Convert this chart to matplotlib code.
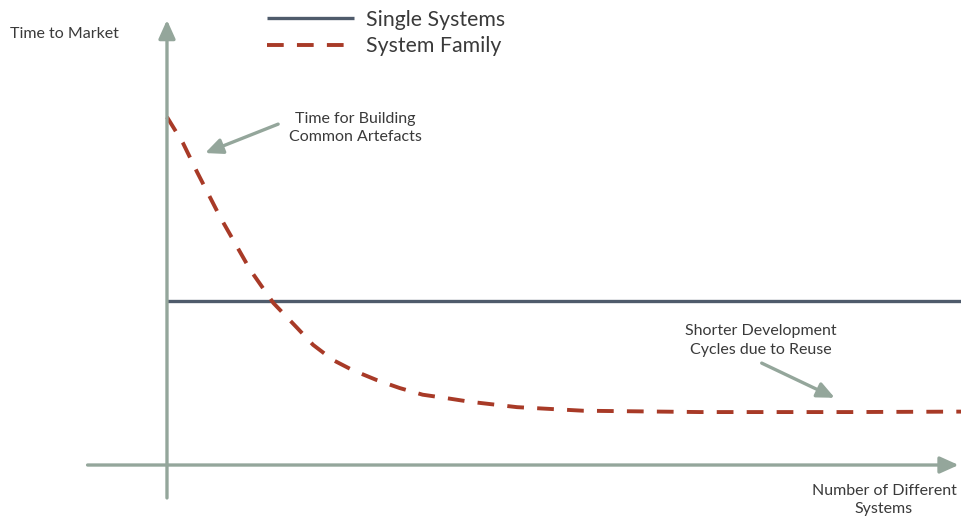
import matplotlib
matplotlib.use("Agg")
from matplotlib import pyplot as plt
import numpy as np

plt.rcParams['font.family'] = ['Lato', 'DejaVu Sans']

# number of different systems (x) vs time to market (y)
n_systems = [0.0, 0.2, 0.38, 0.67, 1.05, 1.34, 1.64, 1.84, 2.09, 2.34, 2.64,
             2.93, 3.22, 3.53, 3.82, 4.41, 5.24, 6.71, 8.6, 10.0]
family_time = [7.82, 7.24, 6.58, 5.57, 4.38, 3.64, 3.08, 2.7, 2.36, 2.13, 1.91,
               1.73, 1.58, 1.5, 1.42, 1.3, 1.22, 1.19, 1.19, 1.2]
single_x = [0.0, 10.0]
single_time = [3.69, 3.69]

axis_col = '#94a69b'
text_col = '#3a3a3a'
single_col = '#4f5b6b'
family_col = '#a83a27'

fig = plt.figure(figsize=(9.61, 5.19), dpi=100)
ax = fig.add_axes([0, 0, 1, 1])
ax.set_xlim(-2.103, 10.0)
ax.set_ylim(-1.213, 10.449)
ax.axis('off')

arrow = dict(arrowstyle='-|>,head_length=0.8,head_width=0.36',
             color=axis_col, lw=2.4, shrinkA=0, shrinkB=0)

# axes with arrow heads
ax.annotate('', xy=(0, 10.0), xytext=(0, -0.74),
            arrowprops=dict(arrow, mutation_scale=14))
ax.annotate('', xy=(9.97, 0), xytext=(-1.0, 0),
            arrowprops=dict(arrow, mutation_scale=14))

ax.plot(single_x, single_time, color=single_col, lw=2.4,
        solid_capstyle='butt', label='Single Systems')
ax.plot(n_systems, family_time, color=family_col, lw=2.8,
        dashes=(4.3, 3.4), label='System Family')

leg = ax.legend(loc='upper left', bbox_to_anchor=(0.258, 1.018), frameon=False,
                fontsize=15.3, handlelength=4.1, handletextpad=0.55,
                labelspacing=0.3, labelcolor=text_col)

small = dict(fontsize=11.5, color=text_col, linespacing=1.4)

ax.text(-1.977, 9.69, 'Time to Market', ha='left', va='center', **small)
ax.text(9.03, -0.79, 'Number of Different\nSystems', ha='center',
        va='center', **small)

ax.text(2.37, 7.57, 'Time for Building\nCommon Artefacts', ha='center',
        va='center', **small)
ax.annotate('', xy=(0.48, 7.01), xytext=(1.40, 7.66),
            arrowprops=dict(arrow, mutation_scale=13))

ax.text(7.48, 2.80, 'Shorter Development\nCycles due to Reuse', ha='center',
        va='center', **small)
ax.annotate('', xy=(8.41, 1.51), xytext=(7.49, 2.29),
            arrowprops=dict(arrow, mutation_scale=13))

fig.savefig('out.png', dpi=100)
